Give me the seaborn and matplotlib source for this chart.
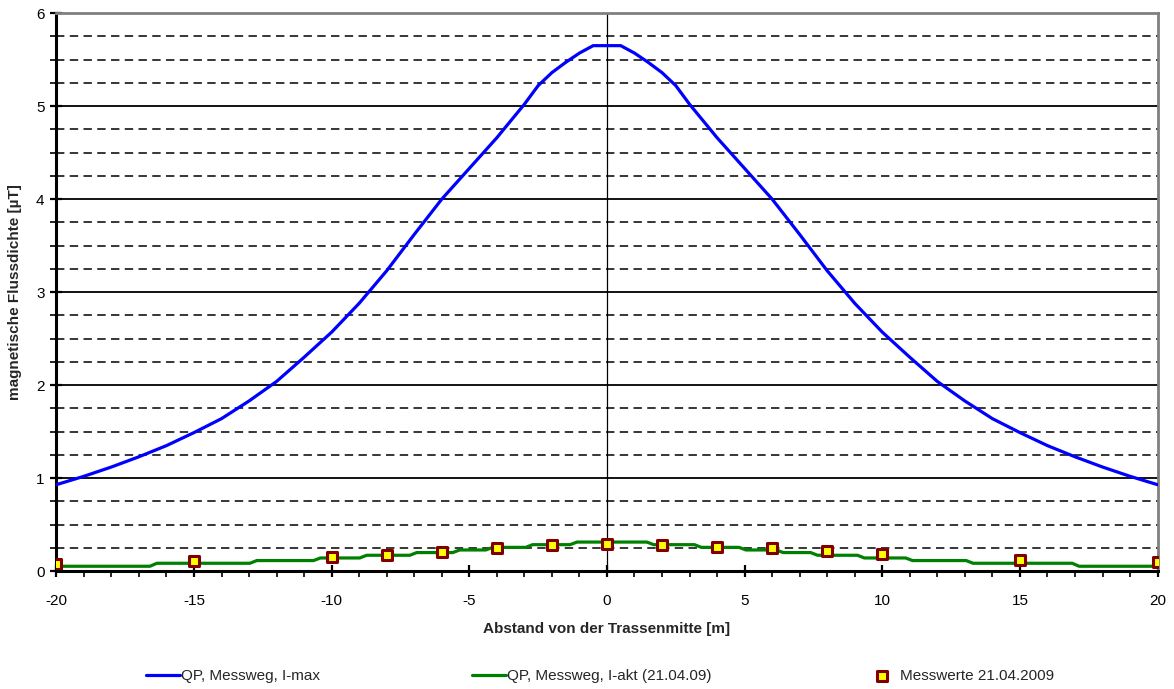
import numpy as np
import pandas as pd
import matplotlib
matplotlib.use("Agg")
import matplotlib.pyplot as plt
from matplotlib.ticker import MultipleLocator
import seaborn as sns

sns.set_theme(style="white")
plt.rcParams['font.family'] = ['Liberation Sans', 'DejaVu Sans']
plt.rcParams['axes.unicode_minus'] = False

# QP, Messweg, I-max (berechnet), Werte von 0 bis 20 m (symmetrisch)
imax_abstand = [0, 0.5, 1, 1.5, 2, 2.5, 3, 3.5, 4, 5, 6, 7, 8, 9, 10, 11, 12, 13, 14, 15, 16, 17, 18, 19, 20]
imax_werte = [5.65, 5.65, 5.57, 5.47, 5.36, 5.22, 5.02, 4.84, 4.66, 4.33, 4.00, 3.62, 3.23, 2.88, 2.57,
              2.30, 2.04, 1.83, 1.64, 1.49, 1.35, 1.23, 1.12, 1.02, 0.93]

# QP, Messweg, I-akt (21.04.09): Stufen
iakt_grenzen_links = [-20, -16.6, -12.97, -10.66, -8.98, -7.16, -5.6, -4.4, -2.95, -1.34]
iakt_grenzen_rechts = [1.45, 3.18, 4.8, 6.15, 7.4, 9.1, 10.85, 13.05, 16.9, 20]
iakt_stufen = [0.053, 0.085, 0.114, 0.142, 0.171, 0.200, 0.228, 0.256, 0.285, 0.313]

# Messwerte 21.04.2009
mess_abstand = [-20, -15, -10, -8, -6, -4, -2, 0, 2, 4, 6, 8, 10, 15, 20]
mess_werte = [0.082, 0.11, 0.153, 0.171, 0.206, 0.253, 0.281, 0.295, 0.281, 0.263, 0.253, 0.214, 0.181, 0.125, 0.10]

# Tabellen aufbauen
x_imax = [-v for v in imax_abstand[::-1]] + imax_abstand[1:]
y_imax = imax_werte[::-1] + imax_werte[1:]
df_imax = pd.DataFrame({'x': x_imax, 'y': y_imax})

x_akt, y_akt = [], []
links = iakt_grenzen_links
for i, lev in enumerate(iakt_stufen):
    start = links[i] + (0.25 if i > 0 else 0)
    x_akt.append(start); y_akt.append(lev)
    if i + 1 < len(links):
        x_akt.append(links[i + 1]); y_akt.append(lev)
for i, lev in enumerate(iakt_stufen[::-1]):
    if i == 0:
        x_akt.append(iakt_grenzen_rechts[0]); y_akt.append(lev)
    else:
        x_akt.append(iakt_grenzen_rechts[i - 1] + 0.25); y_akt.append(lev)
        x_akt.append(iakt_grenzen_rechts[i]); y_akt.append(lev)
df_akt = pd.DataFrame({'x': x_akt, 'y': y_akt})
df_mess = pd.DataFrame({'x': mess_abstand, 'y': mess_werte})

fig = plt.figure(figsize=(11.74, 6.89), dpi=100)
ax = fig.add_axes([0.048, 0.171, 0.938, 0.81])

# Gitter
for yv in np.arange(0.25, 6, 0.25):
    if abs(yv - round(yv)) < 1e-9:
        ax.axhline(yv, color='black', lw=1.3, zorder=1)
    else:
        ax.axhline(yv, color='black', lw=1.1, ls=(0, (5.5, 3.5)), zorder=1)
ax.axvline(0, color='black', lw=0.9, zorder=1)

sns.lineplot(data=df_imax, x='x', y='y', color='#0000FF', lw=2.3, ax=ax,
             label='QP, Messweg, I-max', sort=False, zorder=3)
sns.lineplot(data=df_akt, x='x', y='y', color='#008000', lw=2.3, ax=ax,
             label='QP, Messweg, I-akt (21.04.09)', sort=False, zorder=3)
sns.scatterplot(data=df_mess, x='x', y='y', marker='s', s=50, color='#FFFF00',
                edgecolor='#800000', linewidth=2.2, ax=ax, label='Messwerte 21.04.2009', zorder=4)

ax.set_xlim(-20, 20)
ax.set_ylim(0, 6)
ax.xaxis.set_major_locator(MultipleLocator(5))
ax.xaxis.set_minor_locator(MultipleLocator(1))
ax.yaxis.set_major_locator(MultipleLocator(1))
ax.yaxis.set_minor_locator(MultipleLocator(0.25))
ax.tick_params(axis='x', which='major', direction='inout', length=9, width=1.6, labelsize=11, pad=12, colors='black')
ax.tick_params(axis='x', which='minor', direction='out', length=4, width=1.2, colors='black')
ax.tick_params(axis='y', which='major', direction='inout', length=9, width=1.6, labelsize=11, pad=4, colors='black')
ax.tick_params(axis='y', which='minor', direction='out', length=4, width=1.2, colors='black')
ax.tick_params(bottom=True, left=True, which='both')

for s in ['left', 'bottom']:
    ax.spines[s].set_color('black')
    ax.spines[s].set_linewidth(2.2)
for s in ['top', 'right']:
    ax.spines[s].set_color('#808080')
    ax.spines[s].set_linewidth(2)
ax.spines['bottom'].set_zorder(5)

ax.set_xlabel('Abstand von der Trassenmitte [m]', fontsize=11, fontweight='bold', labelpad=10)
ax.set_ylabel('magnetische Flussdichte [µT]', fontsize=11, fontweight='bold', labelpad=10)

handles, labels = ax.get_legend_handles_labels()
ax.get_legend().remove()
# drei Legendeneinträge an den Positionen wie im Original
anker = [146, 472, 865]
for h, l, xa in zip(handles, labels, anker):
    fig.legend([h], [l], loc='center left', bbox_to_anchor=(xa / 1174, 1 - 676 / 689),
               frameon=False, fontsize=11, handlelength=2.2, handletextpad=0.1,
               borderpad=0, borderaxespad=0)

fig.savefig('out.png', dpi=100)
